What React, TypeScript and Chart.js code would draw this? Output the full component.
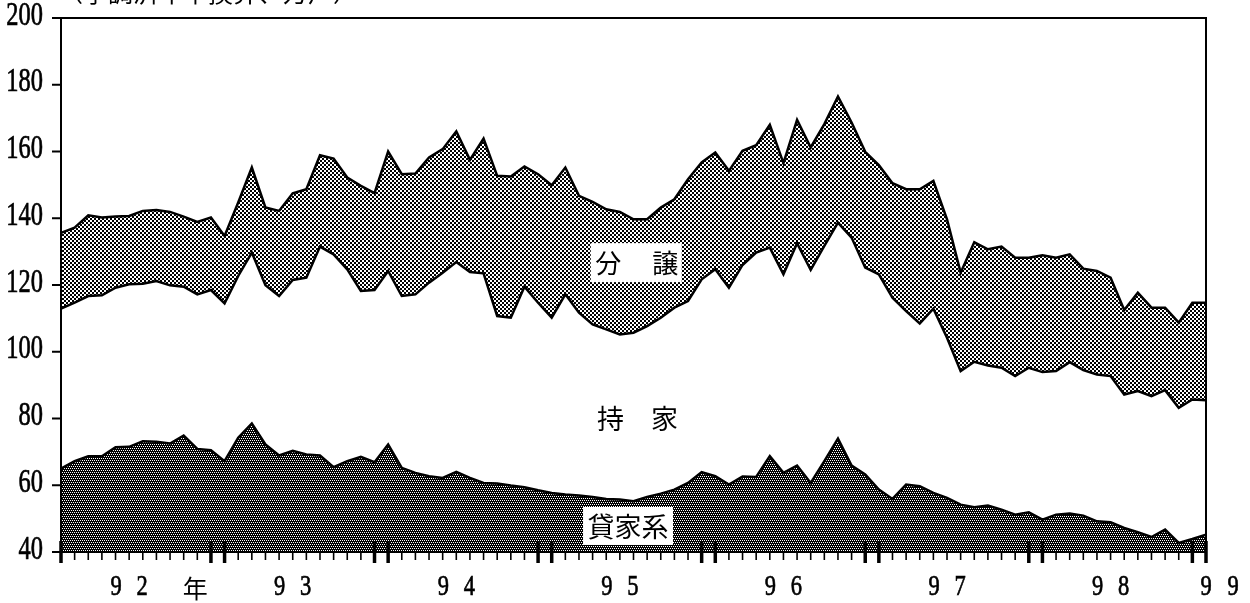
import React, { useEffect, useRef } from 'react';
import { Chart, registerables } from 'chart.js';

Chart.register(...registerables);

// ---- data (万戸, 季調済年率換算) ----
const firstYear = 1992;
const lastYear = 1999; // axis ends at January of this year
const categoryLabels: string[] = [];
for (let y = firstYear; y < lastYear; y++) {
  for (let m = 1; m <= 12; m++) categoryLabels.push(`${y}/${m}`);
}
categoryLabels.push(`${lastYear}/1`);

const yearTickLabels = ['92', '93', '94', '95', '96', '97', '98', '99'];
const yTickValues = [40, 60, 80, 100, 120, 140, 160, 180, 200];

// 貸家系 (upper edge of the bottom band)
const rentalLine = [
  65, 67.2, 68.7, 68.7, 71.4, 71.5, 73.2, 73, 72.5, 74.9, 70.9, 70.5,
  67.2, 74.2, 78.5, 72.2, 68.9, 70.3, 69.2, 68.9, 65.4, 67.2, 68.5, 66.9,
  72.2, 65.2, 63.7, 62.7, 62.2, 64, 62.2, 60.7, 60.5, 59.9, 59.4, 58.5,
  57.7, 57.2, 56.9, 56.5, 55.9, 55.7, 55.2, 56.5, 57.5, 58.7, 60.7, 63.9,
  62.7, 60.2, 62.6, 62.5, 68.7, 63.7, 65.9, 60.7, 67.2, 74, 65.9, 63.2,
  58.7, 55.9, 60.2, 59.7, 57.7, 56.2, 54.2, 53.4, 53.9, 52.7, 51.2, 51.9,
  49.7, 51.2, 51.5, 50.9, 49.2, 48.9, 47.2, 45.9, 44.5, 46.7, 42.7, 43.9,
  45.2,
];

// 貸家系 + 持家 (upper edge of the white band)
const ownerLine = [
  112.9, 114.7, 116.7, 116.9, 119.2, 120.2, 120.4, 121.2, 119.9, 119.5, 117.2, 118.5,
  114.5, 122.7, 129.7, 119.9, 116.7, 121.5, 122.2, 131.5, 129.2, 124.7, 118.2, 118.5,
  124.2, 116.7, 117.2, 120.7, 123.7, 126.9, 123.9, 123.5, 110.7, 110.2, 119.5, 114.7,
  110.2, 117.2, 111.7, 108.2, 106.7, 105.2, 105.7, 107.7, 110.2, 113.2, 115.2, 121.7,
  124.7, 119.2, 126, 129.7, 131.2, 123.2, 132.5, 124.5, 131.7, 138.7, 134.2, 125.2,
  123.2, 116.2, 112.2, 108.5, 112.9, 104.2, 94.2, 97, 95.9, 95.2, 92.7, 95.2,
  93.9, 94.2, 96.9, 94.5, 93.2, 92.7, 87.2, 88.2, 86.7, 88.5, 83.2, 85.7,
  85.5,
];

// 貸家系 + 持家 + 分譲 (total, upper edge of the top band)
const totalLine = [
  135.6, 137.2, 140.9, 140.2, 140.5, 140.7, 142.2, 142.5, 141.9, 140.5, 138.9, 140.2,
  134.7, 144.7, 155.2, 143.2, 142.2, 147.5, 148.7, 158.9, 157.9, 152.2, 149.7, 147.5,
  160, 153.2, 153.4, 158.2, 160.7, 166, 157.5, 163.9, 152.7, 152.5, 155.5, 153.2,
  149.9, 155.2, 146.7, 144.9, 142.7, 141.9, 139.7, 139.7, 143.2, 145.7, 151.7, 156.7,
  159.7, 154.2, 160.2, 161.9, 168, 156.5, 169.5, 161.2, 168.2, 176.5, 168.7, 159.9,
  155.9, 150.5, 148.7, 148.7, 151.2, 139.7, 123.7, 132.8, 130.7, 131.5, 128.2, 128.2,
  128.9, 128.2, 129.2, 124.9, 124.2, 122.2, 112.5, 117.7, 113.2, 113.2, 108.7, 114.7,
  114.7,
];

const titleText = '（季調済年率換算、万戸）';

const SERIF = '"Liberation Serif", "DejaVu Serif", serif';
const CJK = '"Noto Sans CJK JP", "Noto Sans CJK SC", sans-serif';

function makePattern(kind: 'dark' | 'diag'): CanvasPattern | string {
  const c = document.createElement('canvas');
  c.width = 4;
  c.height = 4;
  const g = c.getContext('2d');
  if (!g) return '#666';
  g.fillStyle = '#fff';
  g.fillRect(0, 0, 4, 4);
  g.fillStyle = '#000';
  for (let y = 0; y < 4; y++) {
    for (let x = 0; x < 4; x++) {
      let black: boolean;
      if (kind === 'dark') {
        // staggered lattice of small white dots on black
        const white = (y === 0 && (x === 0 || x === 2)) || (y === 2 && (x === 1 || x === 3));
        black = !white;
      } else {
        // diagonal "\" halftone, about half black
        const d = (x - y + 8) % 4;
        black = d === 0 || (d === 1 && y % 2 === 0) || (d === 3 && y % 2 === 1);
      }
      if (black) g.fillRect(x, y, 1, 1);
    }
  }
  const p = g.createPattern(c, 'repeat');
  return p || '#666';
}

function squeezeText(ctx: CanvasRenderingContext2D, text: string, x: number, y: number, sx: number) {
  ctx.save();
  ctx.translate(x, y);
  ctx.scale(sx, 1);
  ctx.fillText(text, 0, 0);
  ctx.lineWidth = 0.7;
  ctx.strokeText(text, 0, 0);
  ctx.restore();
}

const paperPlugin = {
  id: 'paperAxes',
  afterDatasetsDraw(chart: any) {
    const { ctx, chartArea: a, scales } = chart;
    const xs = scales.x;
    const ys = scales.y;
    ctx.save();

    const box = (cx: number, cy: number, w: number, h: number) => {
      ctx.fillStyle = '#fff';
      ctx.fillRect(cx - w / 2, cy - h / 2, w, h);
    };
    ctx.textAlign = 'center';
    ctx.textBaseline = 'middle';

    // 分譲
    let cx = xs.getPixelForValue(42.2);
    let cy = ys.getPixelForValue(126.7);
    box(cx, cy, 91, 39);
    ctx.fillStyle = '#000';
    ctx.font = `26px ${CJK}`;
    ctx.fillText('分', cx - 28, cy);
    ctx.fillText('譲', cx + 29, cy);

    // 持家
    cx = xs.getPixelForValue(42.3);
    cy = ys.getPixelForValue(80);
    ctx.font = `27px ${CJK}`;
    ctx.fillText('持', cx - 27, cy);
    ctx.fillText('家', cx + 27, cy);

    // 貸家系
    cx = xs.getPixelForValue(41.6);
    cy = ys.getPixelForValue(47.8);
    box(cx, cy, 90, 38);
    ctx.fillStyle = '#000';
    ctx.font = `27px ${CJK}`;
    ctx.fillText('貸家系', cx, cy + 1);

    // frame
    ctx.strokeStyle = '#000';
    ctx.lineWidth = 2;
    ctx.strokeRect(a.left, a.top, a.right - a.left, a.bottom - a.top);

    // y ticks + labels
    ctx.font = `33px ${SERIF}`;
    ctx.textAlign = 'right';
    ctx.textBaseline = 'middle';
    yTickValues.forEach((v) => {
      const y = ys.getPixelForValue(v);
      ctx.beginPath();
      ctx.lineWidth = 2;
      ctx.moveTo(a.left - 9, y);
      ctx.lineTo(a.left, y);
      ctx.stroke();
      squeezeText(ctx, String(v), a.left - 18, y - 2, 0.74);
    });

    // x ticks (monthly), thick double ticks at Dec / Jan
    for (let i = 0; i < categoryLabels.length; i++) {
      const x = xs.getPixelForValue(i);
      const m = i % 12;
      const thick = m === 0 || m === 11;
      ctx.beginPath();
      if (thick) {
        ctx.lineWidth = 3.5;
        ctx.moveTo(x, a.bottom - 11);
        ctx.lineTo(x, a.bottom + 11);
      } else {
        ctx.lineWidth = 1.6;
        ctx.moveTo(x, a.bottom);
        ctx.lineTo(x, a.bottom + 8);
      }
      ctx.stroke();
    }

    // year labels
    ctx.font = `30px ${SERIF}`;
    ctx.textAlign = 'center';
    ctx.textBaseline = 'middle';
    const labelY = a.bottom + 35;
    yearTickLabels.forEach((lab, k) => {
      const last = k === yearTickLabels.length - 1;
      const idx = last ? k * 12 : k * 12 + 5;
      const x = xs.getPixelForValue(idx);
      const c0 = last ? x : x - 13;
      const c1 = last ? x + 27 : x + 13;
      squeezeText(ctx, lab[0], c0, labelY, 0.75);
      squeezeText(ctx, lab[1], c1, labelY, 0.75);
      if (k === 0) {
        ctx.font = `25px ${CJK}`;
        ctx.fillText('年', x + 66, labelY + 1);
        ctx.font = `30px ${SERIF}`;
      }
    });

    // unit title (cut at the top edge as in the original)
    ctx.font = `25px ${CJK}`;
    ctx.textAlign = 'left';
    ctx.textBaseline = 'alphabetic';
    ctx.fillText(titleText, a.left - 3, 2);

    ctx.restore();
  },
};

export default function App() {
  const canvasRef = useRef<HTMLCanvasElement | null>(null);

  useEffect(() => {
    document.body.style.margin = '0';
    const canvas = canvasRef.current;
    if (!canvas) return;
    const ctx = canvas.getContext('2d');
    if (!ctx) return;

    const chart = new Chart(ctx, {
      type: 'line',
      data: {
        labels: categoryLabels,
        datasets: [
          {
            label: '貸家系',
            data: rentalLine,
            fill: 'start',
            backgroundColor: makePattern('dark') as any,
            borderColor: '#000',
            borderWidth: 2.5,
            pointRadius: 0,
            tension: 0,
          },
          {
            label: '持家',
            data: ownerLine,
            fill: '-1',
            backgroundColor: '#ffffff',
            borderColor: '#000',
            borderWidth: 2.5,
            pointRadius: 0,
            tension: 0,
          },
          {
            label: '分譲',
            data: totalLine,
            fill: '-1',
            backgroundColor: makePattern('diag') as any,
            borderColor: '#000',
            borderWidth: 2.5,
            pointRadius: 0,
            tension: 0,
          },
        ],
      },
      options: {
        animation: false,
        responsive: false,
        devicePixelRatio: 1,
        layout: { padding: { left: 61, right: 44, top: 18, bottom: 51 } },
        scales: {
          x: { type: 'category', display: false, offset: false },
          y: { type: 'linear', display: false, min: 40, max: 200 },
        },
        plugins: {
          legend: { display: false },
          tooltip: { enabled: false },
        },
      },
      plugins: [paperPlugin],
    });

    return () => chart.destroy();
  }, []);

  return (
    <div style={{ width: 1250, height: 603, background: '#fff', overflow: 'hidden' }}>
      <canvas ref={canvasRef} width={1250} height={603} style={{ display: 'block' }} />
    </div>
  );
}
